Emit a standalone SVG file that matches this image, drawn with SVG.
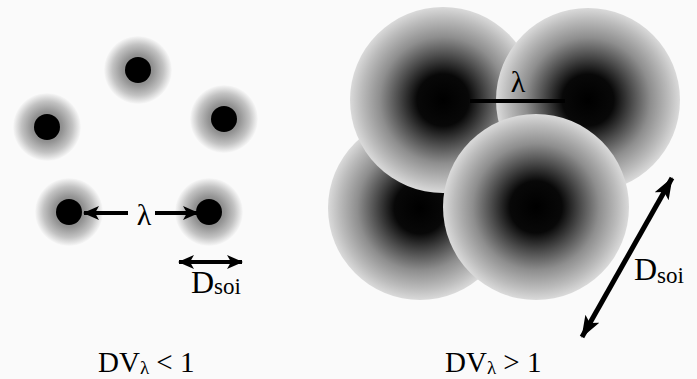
<svg xmlns="http://www.w3.org/2000/svg" width="697" height="379" viewBox="0 0 697 379">
<defs>
<radialGradient id="halo" cx="0.5" cy="0.5" r="0.5">
<stop offset="0" stop-color="#707070"/>
<stop offset="0.45" stop-color="#939393"/>
<stop offset="0.75" stop-color="#c2c2c2"/>
<stop offset="1" stop-color="#f8f8f8"/>
</radialGradient>
<radialGradient id="sphere" cx="0.5" cy="0.5" r="0.5">
<stop offset="0" stop-color="#000"/>
<stop offset="0.28" stop-color="#080808"/>
<stop offset="0.48" stop-color="#4c4c4c"/>
<stop offset="0.68" stop-color="#8e8e8e"/>
<stop offset="0.88" stop-color="#bcbcbc"/>
<stop offset="1" stop-color="#dadada"/>
</radialGradient>
<marker id="head" viewBox="0 0 16 14" refX="15" refY="7" markerWidth="16" markerHeight="14" markerUnits="userSpaceOnUse" orient="auto-start-reverse">
<path d="M0,0 L16,7 L0,14 L4,7 Z" fill="#000"/>
</marker>
<marker id="headBig" viewBox="0 0 22 16" refX="21" refY="8" markerWidth="22" markerHeight="16" markerUnits="userSpaceOnUse" orient="auto-start-reverse">
<path d="M0,0 L22,8 L0,16 L5,8 Z" fill="#000"/>
</marker>
<style>
.dot{fill:#000}
.halo{fill:url(#halo)}
.sph{fill:url(#sphere)}
.ln{stroke:#000;stroke-width:4;fill:none}
.t{font-family:"Liberation Serif","Times New Roman",serif;fill:#000}
</style>
</defs>
<rect width="697" height="379" fill="#fafafa"/>

<g id="atom-top"><circle class="halo" cx="138" cy="70" r="34"/><circle class="dot" cx="138" cy="70" r="13"/></g>
<g id="atom-left"><circle class="halo" cx="47" cy="127" r="34"/><circle class="dot" cx="47" cy="127" r="13"/></g>
<g id="atom-right"><circle class="halo" cx="224" cy="119" r="34"/><circle class="dot" cx="224" cy="119" r="13"/></g>
<g id="atom-bl"><circle class="halo" cx="69" cy="212" r="34"/><circle class="dot" cx="69" cy="212" r="13"/></g>
<g id="atom-br"><circle class="halo" cx="209" cy="212" r="34"/><circle class="dot" cx="209" cy="212" r="13"/></g>

<g id="sphere-bl"><circle class="sph" cx="420" cy="208" r="92"/></g>
<g id="sphere-tl"><circle class="sph" cx="443" cy="100" r="93"/></g>
<g id="sphere-tr"><circle class="sph" cx="588" cy="100" r="92"/></g>
<g id="sphere-front"><circle class="sph" cx="536" cy="207" r="93"/></g>

<g id="connectors">
<line class="ln" x1="128" y1="213" x2="84" y2="213" marker-end="url(#head)"/>
<line class="ln" x1="155" y1="213" x2="198" y2="213" marker-end="url(#head)"/>
<line class="ln" x1="179" y1="262" x2="242" y2="262" marker-start="url(#head)" marker-end="url(#head)"/>
<line x1="470" y1="101" x2="565" y2="101" stroke="#000" stroke-width="4"/>
<line x1="672" y1="178" x2="582" y2="337" stroke="#000" stroke-width="5" marker-start="url(#headBig)" marker-end="url(#headBig)"/>
</g>

<g id="labels">
<text class="t" x="144" y="225" font-size="30" text-anchor="middle">λ</text>
<text class="t" x="518" y="92" font-size="30" text-anchor="middle">λ</text>
<text class="t" x="191" y="293" font-size="32">D<tspan font-size="23" dy="1">soi</tspan></text>
<text class="t" x="634" y="280" font-size="32">D<tspan font-size="23" dy="3">soi</tspan></text>
<text class="t" x="98" y="372" font-size="29">DV<tspan font-size="19" dy="2">λ</tspan><tspan dy="-2"> &lt; 1</tspan></text>
<text class="t" x="445" y="372" font-size="29">DV<tspan font-size="19" dy="2">λ</tspan><tspan dy="-2"> &gt; 1</tspan></text>
</g>
</svg>
